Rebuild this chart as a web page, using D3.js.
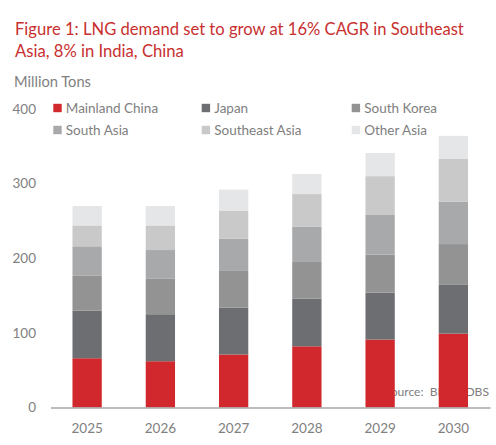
<!DOCTYPE html>
<html>
<head>
<meta charset="utf-8">
<script src="https://cdn.jsdelivr.net/npm/d3@7"></script>
<style>
  body { margin: 0; background: #fff; }
  svg { display: block; font-family: Lato, "Open Sans", sans-serif; }
</style>
</head>
<body>
<svg id="chart" width="496" height="445"></svg>
<script>
// values (million tons)
const years = ['2025', '2026', '2027', '2028', '2029', '2030'];
const regions = ['Mainland China', 'Japan', 'South Korea', 'South Asia', 'Southeast Asia', 'Other Asia'];
const mainlandChina = [66, 62, 71, 82, 91, 99];
const japan = [64, 63, 63, 64, 63, 66];
const southKorea = [47, 48, 49, 49, 51, 54];
const southAsia = [39, 38, 43, 47, 53, 57];
const southeastAsia = [28, 33, 38, 44, 52, 57];
const otherAsia = [26, 26, 28, 27, 31, 31];
const yTicks = [0, 100, 200, 300, 400];

const seriesValues = [mainlandChina, japan, southKorea, southAsia, southeastAsia, otherAsia];
const colors = ['#D0282C', '#6D6E71', '#939393', '#A8A9AB', '#C9C9C9', '#E5E6E7'];
const grey = '#808080';

const width = 496, height = 445;
const svg = d3.select('#chart');

// helper: shrink/grow font so the text hits the width measured on the reference
function fitText(sel, target) {
  const node = sel.node();
  const fs = parseFloat(sel.attr('font-size'));
  const w = node.getComputedTextLength();
  sel.attr('font-size', (fs * target / w).toFixed(2));
  return sel;
}

// table for the stack
const table = years.map((yr, i) => {
  const row = { year: yr };
  regions.forEach((r, j) => { row[r] = seriesValues[j][i]; });
  return row;
});
const series = d3.stack().keys(regions)(table);

const x = d3.scaleBand()
  .domain(years)
  .range([50.5, 490])
  .paddingInner(0.6)
  .paddingOuter(0.3);

const y = d3.scaleLinear()
  .domain([0, 400])
  .range([407.5, 109]);

const color = d3.scaleOrdinal().domain(regions).range(colors);

// title
fitText(svg.append('text')
  .attr('x', 15).attr('y', 35)
  .attr('font-size', 18)
  .attr('fill', '#C8302F')
  .text('Figure 1: LNG demand set to grow at 16% CAGR in Southeast'), 449);
fitText(svg.append('text')
  .attr('x', 15).attr('y', 57)
  .attr('font-size', 18)
  .attr('fill', '#C8302F')
  .text('Asia, 8% in India, China'), 169);

fitText(svg.append('text')
  .attr('x', 14).attr('y', 87)
  .attr('font-size', 14)
  .attr('fill', grey)
  .text('Million Tons'), 77);

// source sits under the bars, as in the reference (partly hidden)
fitText(svg.append('text')
  .attr('x', 489).attr('y', 396)
  .attr('text-anchor', 'end')
  .attr('font-size', 11.5)
  .attr('fill', grey)
  .text('Source:\u00a0\u00a0BNEF, DBS'), 105);

// y axis labels only
svg.append('g')
  .attr('transform', 'translate(50.5,0)')
  .call(d3.axisLeft(y).tickValues(yTicks).tickSize(0).tickPadding(14.5))
  .call(g => g.select('.domain').remove())
  .call(g => g.selectAll('text')
    .attr('font-family', 'Lato, sans-serif')
    .attr('font-size', 13.5)
    .attr('fill', grey));

// bars
svg.append('g')
  .selectAll('g')
  .data(series)
  .join('g')
    .attr('fill', d => color(d.key))
  .selectAll('rect')
  .data(d => d)
  .join('rect')
    .attr('x', d => x(d.data.year))
    .attr('y', d => y(d[1]))
    .attr('width', x.bandwidth())
    .attr('height', d => y(d[0]) - y(d[1]));

// x axis
svg.append('g')
  .attr('transform', `translate(0,${y(0)})`)
  .call(d3.axisBottom(x).tickSize(0).tickPadding(15.5))
  .call(g => g.select('.domain').attr('stroke', '#A6A6A6').attr('stroke-width', 1.3))
  .call(g => g.selectAll('text')
    .attr('font-family', 'Lato, sans-serif')
    .attr('font-size', 13.5)
    .attr('fill', grey));

// legend, three columns by two rows
const legX = [53.3, 201.7, 351.7];
const legY = [108, 130];
const legend = svg.append('g')
  .selectAll('g')
  .data(regions)
  .join('g')
    .attr('transform', (d, i) => `translate(${legX[i % 3]},${legY[Math.floor(i / 3)]})`);

legend.append('rect')
  .attr('x', 0).attr('y', -4.2)
  .attr('width', 8.4).attr('height', 8.4)
  .attr('fill', d => color(d));

legend.append('text')
  .attr('x', 12.5)
  .attr('dy', '0.35em')
  .attr('font-size', 13.5)
  .attr('fill', grey)
  .text(d => d);
</script>
</body>
</html>
